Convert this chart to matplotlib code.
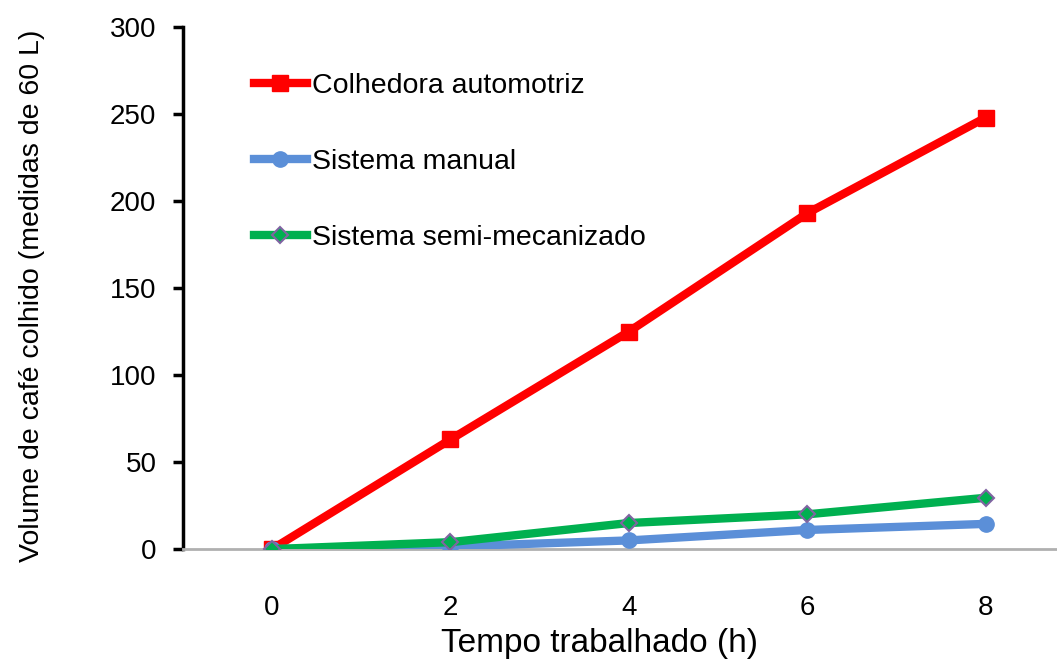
import matplotlib.pyplot as plt

plt.rcParams["font.family"] = ["Liberation Sans", "DejaVu Sans"]

horas = [0, 2, 4, 6, 8]
colhedora = [0, 63, 125, 193, 248]
manual = [0, 1.5, 5, 11, 14.5]
semi_mecanizado = [0, 4, 15, 20, 29.5]

x_ticks = [0, 2, 4, 6, 8]
y_ticks = [0, 50, 100, 150, 200, 250, 300]

fig = plt.figure(figsize=(10.57, 6.6), dpi=100)
ax = fig.add_axes([0.173, 0.168, 0.827, 0.791])

ax.plot(horas, colhedora, color="#ff0000", lw=6, marker="s", ms=11,
        label="Colhedora automotriz", zorder=3)
ax.plot(horas, manual, color="#5b8fd8", lw=6, marker="o", ms=11,
        label="Sistema manual", zorder=3)
ax.plot(horas, semi_mecanizado, color="#00b050", lw=6, marker="D", ms=8,
        mfc="#00b050", mec="#8064a2", mew=1.5,
        label="Sistema semi-mecanizado", zorder=4)

ax.set_xlim(-1.0, 8.8)
ax.set_ylim(0, 300)
ax.set_xticks(x_ticks)
ax.set_yticks(y_ticks)

for side in ["top", "right"]:
    ax.spines[side].set_visible(False)
ax.spines["left"].set_linewidth(2.5)
ax.spines["left"].set_color("black")
ax.spines["bottom"].set_color("#b0b0b0")
ax.spines["bottom"].set_linewidth(2)

ax.tick_params(axis="y", direction="out", length=7, width=2.5, labelsize=20, pad=12)
ax.tick_params(axis="x", length=0, labelsize=20, pad=33)

fig.text(0.567, 0.025, "Tempo trabalhado (h)", fontsize=24, ha="center", va="center")
ax.set_ylabel("Volume de café colhido (medidas de 60 L)", fontsize=20.5)
ax.yaxis.set_label_coords(-0.158, 0.485)

ax.legend(loc="upper left", bbox_to_anchor=(0.052, 0.962), frameon=False,
          fontsize=20.5, labelspacing=1.76, handlelength=1.85, handletextpad=0.2)

fig.savefig("out.png", dpi=100)
